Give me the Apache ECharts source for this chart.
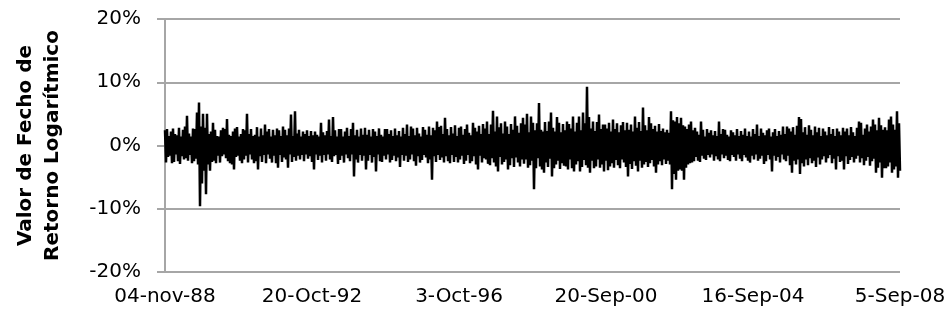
<!DOCTYPE html>
<html>
<head>
<meta charset="utf-8">
<script src="https://cdn.jsdelivr.net/npm/echarts@6/dist/echarts.min.js"></script>
<style>
html, body { margin: 0; padding: 0; background: #fff; }
#draw { width: 952px; height: 323px; }
</style>
</head>
<body>
<div id="draw"></div>
<script>
// retornos diarios, em decimas de ponto percentual
var returns = [
	24,-27,26,-18,15,-16,22,-28,27,-26, 18,-14,16,-25,28,-29,14,-17,25,-22, 30,-20,47,-24,19,-15,14,-28,27,-25, 26,-21,52,-30,68,-96,30,-60,50,-40,
	28,-77,50,-30,18,-40,22,-26,36,-24, 25,-28,15,-16,14,-27,24,-17,28,-14, 26,-20,42,-25,17,-28,15,-30,22,-38, 27,-18,29,-16,14,-24,18,-28,26,-22,
	24,-16,50,-27,18,-14,26,-22,15,-28, 17,-25,29,-38,14,-17,27,-26,16,-15, 33,-28,22,-14,26,-21,14,-27,25,-16, 16,-28,27,-35,24,-15,15,-26,30,-19,
	25,-22,16,-35,27,-14,49,-26,15,-18, 54,-24,19,-16,25,-22,14,-15,22,-25, 18,-14,24,-21,15,-17,23,-26,16,-38, 22,-14,17,-23,14,-16,36,-27,21,-15,
	16,-24,23,-14,41,-22,15,-26,45,-17, 24,-15,14,-29,26,-23,26,-16,14,-27, 22,-14,28,-20,15,-25,26,-14,36,-49, 16,-22,25,-27,14,-15,27,-24,17,-16,
	28,-38,17,-24,25,-15,14,-27,26,-18, 22,-41,15,-14,27,-25,17,-26,14,-16, 26,-22,26,-14,18,-27,24,-23,15,-16, 27,-25,16,-19,23,-34,14,-15,28,-24,
	18,-16,33,-26,15,-22,30,-14,27,-25, 16,-32,28,-17,19,-27,14,-23,29,-15, 25,-19,17,-28,30,-22,16,-54,28,-17, 24,-26,38,-15,29,-23,31,-19,18,-27,
	44,-17,26,-25,16,-28,29,-15,19,-26, 32,-18,15,-27,28,-22,30,-16,17,-29, 26,-24,33,-15,20,-28,16,-25,36,-17, 28,-30,22,-38,31,-16,18,-27,34,-20,
	27,-22,38,-29,18,-31,33,-20,55,-27, 22,-33,46,-41,29,-18,35,-30,19,-26, 38,-22,30,-38,18,-31,34,-20,25,-34, 46,-19,31,-27,20,-33,35,-22,44,-29,
	33,-22,50,-35,21,-31,46,-24,36,-69, 24,-36,35,-20,67,-33,25,-38,22,-43, 37,-27,23,-34,38,-21,52,-49,28,-36, 22,-30,45,-24,36,-37,21,-28,34,-32,
	24,-33,38,-38,34,-22,27,-36,46,-41, 22,-30,36,-25,46,-41,24,-34,52,-23, 35,-31,93,-35,45,-43,27,-24,38,-36, 23,-33,37,-22,49,-35,26,-30,33,-41,
	33,-24,27,-39,36,-33,22,-28,41,-35, 26,-23,35,-31,21,-36,32,-22,37,-27, 24,-34,36,-49,25,-29,33,-37,22,-25, 46,-32,28,-41,37,-24,23,-35,60,-30,
	32,-26,24,-34,45,-28,35,-23,26,-33, 31,-43,22,-30,34,-25,23,-31,27,-22, 21,-29,25,-24,20,-30,54,-69,40,-45, 38,-54,45,-40,35,-38,44,-40,32,-54,
	30,-35,26,-30,33,-28,38,-27,24,-25, 28,-18,22,-24,17,-26,38,-16,25,-21, 14,-23,26,-15,20,-19,24,-14,16,-24, 23,-17,15,-22,38,-25,18,-14,26,-20,
	25,-16,17,-23,14,-25,24,-15,21,-18, 16,-24,26,-14,15,-21,23,-25,17,-15, 27,-19,15,-24,22,-27,14,-16,26,-22, 18,-14,33,-24,15,-21,27,-16,20,-29,
	16,-25,24,-15,27,-22,14,-41,21,-16, 26,-24,15,-18,23,-27,17,-14,30,-22, 18,-25,30,-16,27,-31,22,-43,29,-24, 17,-30,31,-22,45,-45,42,-28,21,-33,
	29,-22,17,-31,32,-20,25,-28,16,-24, 30,-34,21,-19,28,-30,15,-22,27,-17, 22,-27,16,-20,29,-15,18,-28,26,-21, 15,-38,27,-17,22,-26,16,-24,28,-38,
	22,-17,27,-29,16,-23,29,-18,21,-27, 15,-21,28,-16,38,-27,36,-20,17,-31, 27,-24,33,-18,22,-32,30,-25,41,-21, 33,-43,24,-35,44,-27,32,-51,25,-36,
	29,-36,24,-33,41,-27,46,-43,33,-38, 25,-33,54,-51,35,-40
];
var tickLabels = ['04-nov-88', '20-Oct-92', '3-Oct-96', '20-Sep-00', '16-Sep-04', '5-Sep-08'];
var yTicks = [-20, -10, 0, 10, 20];

var myChart = echarts.init(document.getElementById('draw'));
var last = returns.length - 1;
var step = last / (tickLabels.length - 1);

var option = {
	animation : false,
	textStyle : {
		fontFamily : 'DejaVu Sans'
	},
	grid : {
		left : 165,
		right : 52,
		top : 19,
		bottom : 51
	},
	xAxis : {
		type : 'value',
		min : 0,
		max : last,
		interval : step,
		axisLine : { show : false },
		axisTick : { show : false },
		splitLine : { show : false },
		axisLabel : {
			color : '#000',
			fontSize : 20,
			margin : 15,
			formatter : function(v) {
				return tickLabels[Math.round(v / step)];
			}
		}
	},
	yAxis : {
		type : 'value',
		min : yTicks[0],
		max : yTicks[yTicks.length - 1],
		interval : 10,
		name : 'Valor de Fecho de\nRetorno Logarítmico',
		nameLocation : 'middle',
		nameRotate : 90,
		nameGap : 99,
		nameTextStyle : {
			color : '#000',
			fontSize : 20,
			fontWeight : 'bold',
			lineHeight : 27
		},
		axisLine : {
			show : true,
			lineStyle : { color : '#a6a6a6', width : 2 }
		},
		axisTick : {
			show : true,
			length : 8,
			lineStyle : { color : '#a6a6a6', width : 2 }
		},
		splitLine : {
			lineStyle : { color : '#a6a6a6', width : 2 }
		},
		axisLabel : {
			color : '#000',
			fontSize : 20,
			margin : 24,
			formatter : '{value}%'
		}
	},
	series : [ {
		type : 'line',
		showSymbol : false,
		symbol : 'none',
		lineStyle : { color : '#000', width : 2.5 },
		data : returns.map(function(r, i) {
			return [ i, r / 10 ];
		})
	} ]
};

myChart.setOption(option);
</script>
</body>
</html>
